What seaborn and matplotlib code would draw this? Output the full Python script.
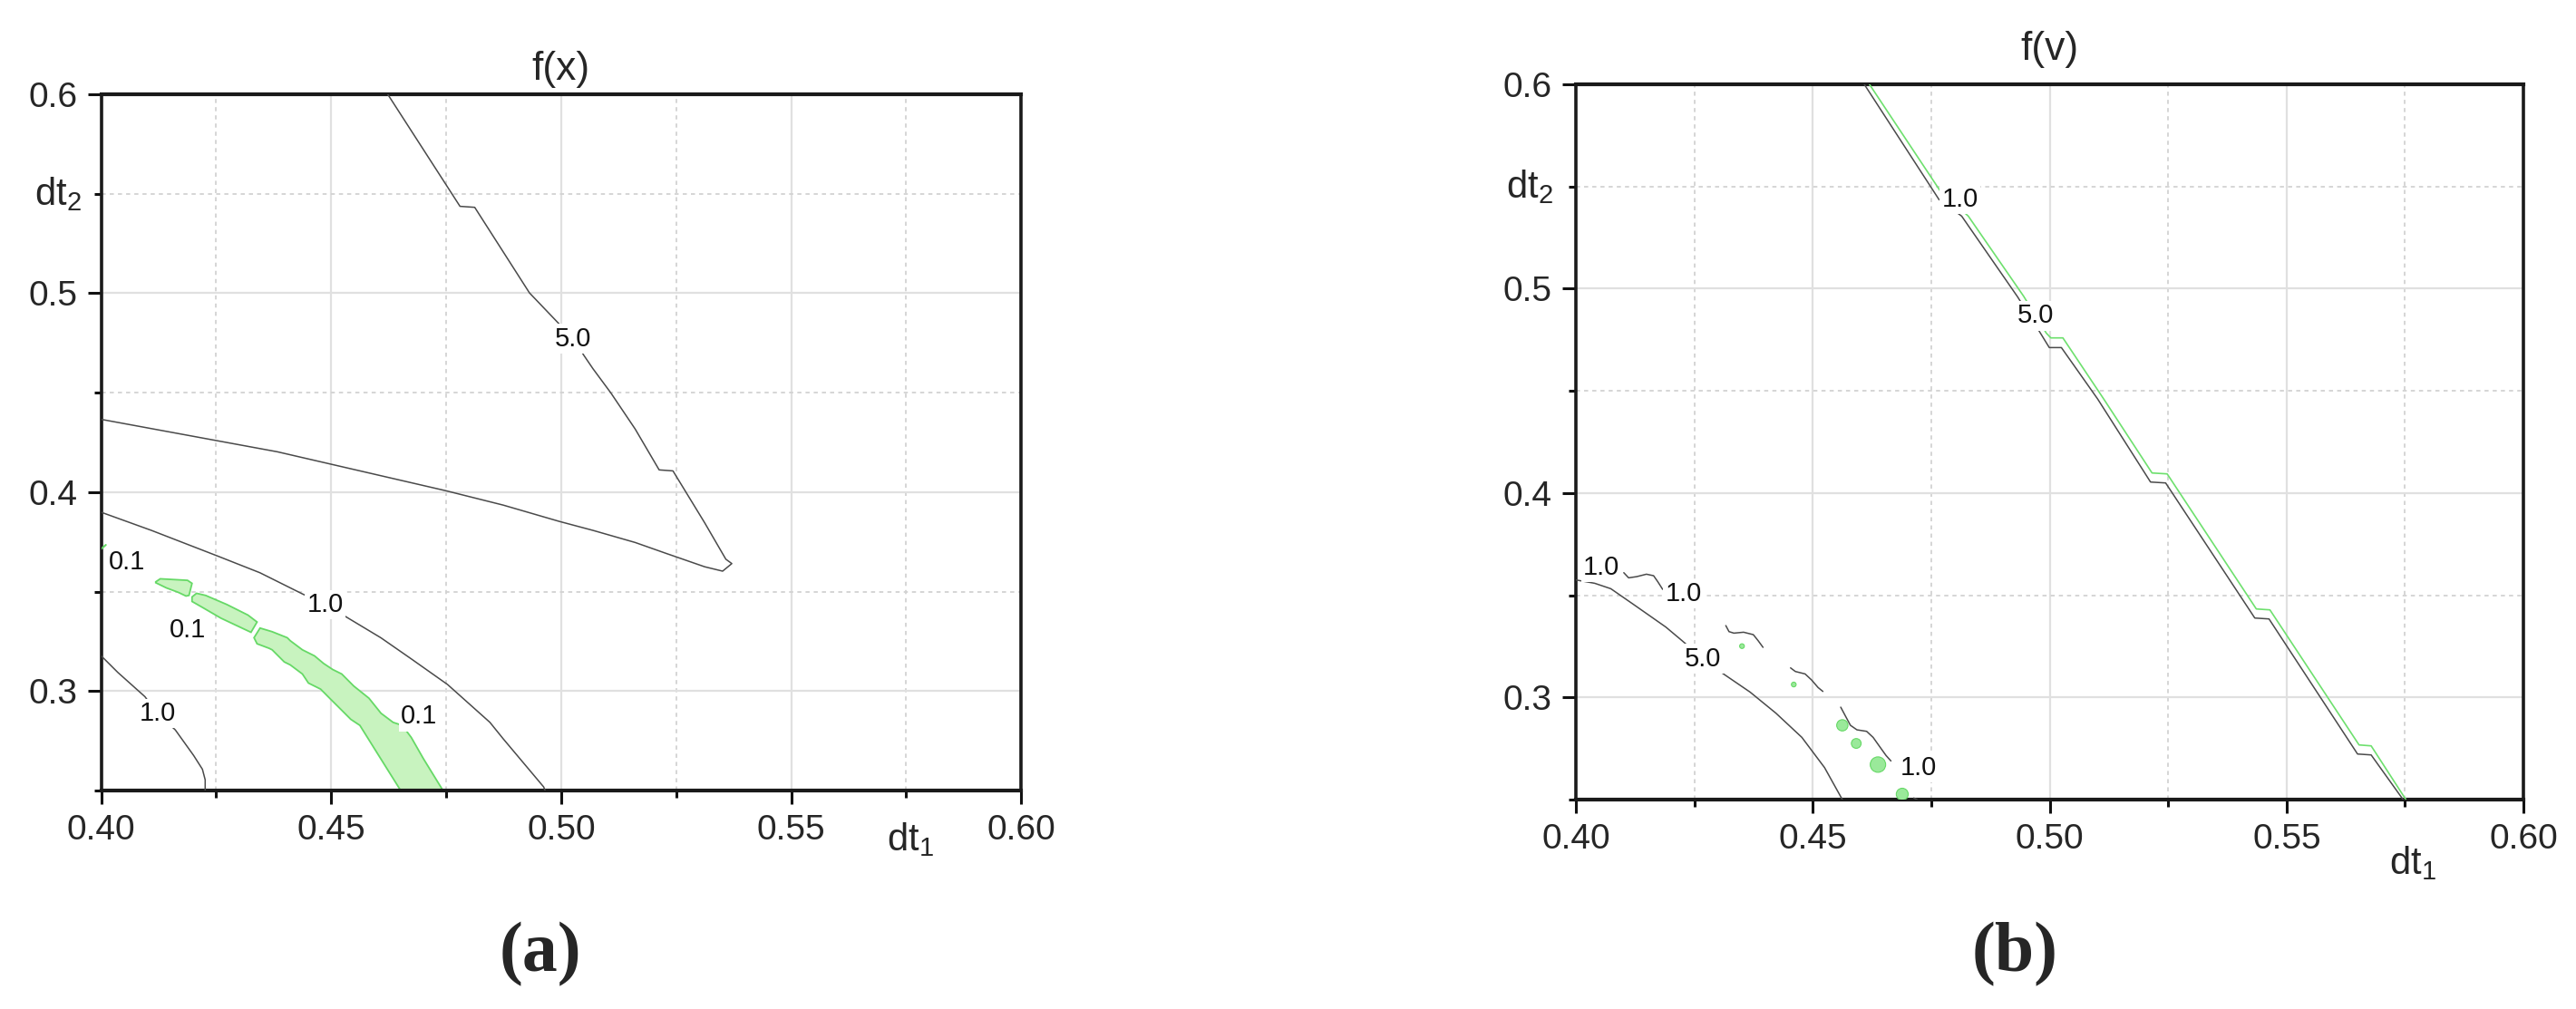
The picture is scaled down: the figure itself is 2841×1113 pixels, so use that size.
import numpy as np
import pandas as pd
import seaborn as sns
import matplotlib.pyplot as plt
from matplotlib.ticker import MultipleLocator, FormatStrFormatter

# ---- panel (a): f(x) ----
# 5.0 contour (V shaped)
a50_x = [0.4623, 0.4780, 0.4812, 0.4931, 0.5026, 0.5049, 0.5069, 0.5108, 0.5161, 0.5213, 0.5243,
         0.5266, 0.5312, 0.5358, 0.5371, 0.5351, 0.5312, 0.5226, 0.5161, 0.5069, 0.4996, 0.4874,
         0.4748, 0.4383, 0.4000]
a50_y = [0.6000, 0.5437, 0.5432, 0.5002, 0.4772, 0.4689, 0.4621, 0.4499, 0.4317, 0.4112, 0.4107,
         0.4020, 0.3846, 0.3663, 0.3641, 0.3603, 0.3625, 0.3694, 0.3747, 0.3808, 0.3853, 0.3935,
         0.4008, 0.4203, 0.4366]
# outer 1.0 contour
a10_x = [0.4000, 0.4109, 0.4253, 0.4345, 0.4437, 0.4487, 0.4526, 0.4608, 0.4674, 0.4753, 0.4845,
         0.4874, 0.4962, 0.4965]
a10_y = [0.3899, 0.3808, 0.3679, 0.3595, 0.3489, 0.3435, 0.3382, 0.3268, 0.3162, 0.3033, 0.2843,
         0.2760, 0.2518, 0.2500]
# small 1.0 contour, lower left
a10s_x = [0.4000, 0.4036, 0.4095, 0.4122, 0.4161, 0.4201, 0.4220, 0.4226, 0.4226]
a10s_y = [0.3177, 0.3094, 0.2972, 0.2888, 0.2805, 0.2676, 0.2607, 0.2554, 0.2500]
# 0.1 regions (filled)
a01_p1_x = [0.41185, 0.41283, 0.41875, 0.41974, 0.41908, 0.41842, 0.41678, 0.41415, 0.41185]
a01_p1_y = [0.35493, 0.35645, 0.35569, 0.35417, 0.34810, 0.34779, 0.34961, 0.35189, 0.35448]
a01_p2_x = [0.41974, 0.42072, 0.42270, 0.42730, 0.43190, 0.43388, 0.43256, 0.43059, 0.42599,
            0.42204, 0.41974]
a01_p2_y = [0.34734, 0.34916, 0.34810, 0.34354, 0.33822, 0.33473, 0.32956, 0.33169, 0.33670,
            0.34202, 0.34506]
a01_p3_x = [0.43322, 0.43453, 0.43716, 0.44045, 0.44111, 0.44374, 0.44637, 0.44834, 0.45031,
            0.45229, 0.45491, 0.45820, 0.46083, 0.46346, 0.46544, 0.46741, 0.47004, 0.47431,
            0.46511, 0.46281, 0.45952, 0.45623, 0.45426, 0.45229, 0.44965, 0.44769, 0.44505,
            0.44374, 0.44111, 0.43979, 0.43716, 0.43650, 0.43388]
a01_p3_y = [0.32683, 0.33169, 0.32986, 0.32683, 0.32531, 0.32075, 0.31771, 0.31391, 0.31087,
            0.30860, 0.30252, 0.29644, 0.28885, 0.28428, 0.28277, 0.27669, 0.26605, 0.25000,
            0.25000, 0.25846, 0.27061, 0.28277, 0.28580, 0.29036, 0.29644, 0.30100, 0.30403,
            0.30859, 0.31315, 0.31467, 0.32075, 0.32151, 0.32379]
a01_tip_x = [0.4000, 0.4010]
a01_tip_y = [0.3715, 0.3735]
a_lab_text = ["5.0", "1.0", "1.0", "0.1", "0.1", "0.1"]
a_lab_x = [0.5026, 0.4487, 0.4122, 0.4056, 0.4188, 0.4691]
a_lab_y = [0.4772, 0.3435, 0.2888, 0.3648, 0.3306, 0.2873]

# ---- panel (b): f(v) ----
b50_x = [0.46086, 0.47662, 0.48141, 0.49321, 0.49787, 0.49991, 0.50246, 0.51011, 0.52128, 0.52447,
         0.54329, 0.54629, 0.56498, 0.56785, 0.57460]
b50_y = [0.60000, 0.54366, 0.53553, 0.49605, 0.47889, 0.47120, 0.47120, 0.44607, 0.40541, 0.40496,
         0.33886, 0.33842, 0.27232, 0.27188, 0.25000]
b10_x = [0.46195, 0.47681, 0.48281, 0.49449, 0.49927, 0.50023, 0.50278, 0.51139, 0.52160, 0.52479,
         0.54361, 0.54648, 0.56530, 0.56785, 0.57519]
b10_y = [0.60000, 0.54810, 0.53553, 0.49634, 0.47830, 0.47594, 0.47594, 0.44607, 0.40984, 0.40940,
         0.34330, 0.34286, 0.27676, 0.27632, 0.25000]
b50s_x = [0.40000, 0.40394, 0.40735, 0.41214, 0.41624, 0.41897, 0.42239, 0.42684, 0.43094, 0.43674,
          0.44221, 0.44768, 0.45247, 0.45623]
b50s_y = [0.35750, 0.35587, 0.35321, 0.34552, 0.33887, 0.33443, 0.32778, 0.31890, 0.31181, 0.30264,
          0.29229, 0.28046, 0.26567, 0.25000]
b10w1_x = [0.41009, 0.41111, 0.41282, 0.41487, 0.41638, 0.41727, 0.41829]
b10w1_y = [0.36105, 0.35853, 0.35912, 0.36031, 0.35957, 0.35661, 0.35291]
b10w2_x = [0.43162, 0.43230, 0.43333, 0.43538, 0.43743, 0.43845, 0.43948]
b10w2_y = [0.33517, 0.33221, 0.33147, 0.33192, 0.33073, 0.32778, 0.32452]
b10w3_x = [0.44529, 0.44631, 0.44836, 0.44973, 0.45110, 0.45212]
b10w3_y = [0.31447, 0.31270, 0.31151, 0.30855, 0.30486, 0.30294]
b10w4_x = [0.45588, 0.45690, 0.45793, 0.45930, 0.46135, 0.46272, 0.46408, 0.46545, 0.46648]
b10w4_y = [0.29525, 0.29081, 0.28637, 0.28416, 0.28342, 0.28046, 0.27602, 0.27159, 0.26893]
b10w5_x = [0.4713, 0.4720]
b10w5_y = [0.2508, 0.2500]
b_blob_x = [0.43504, 0.44597, 0.45622, 0.45916, 0.46374, 0.46887]
b_blob_y = [0.32511, 0.30633, 0.28637, 0.27750, 0.26715, 0.25266]
b_blob_s = [14, 14, 80, 60, 150, 90]
b_lab_text = ["1.0", "5.0", "1.0", "1.0", "5.0", "1.0"]
b_lab_x = [0.48109, 0.49704, 0.40536, 0.42273, 0.42684, 0.47229]
b_lab_y = [0.54366, 0.48673, 0.36360, 0.35070, 0.31890, 0.26567]

x_ticks = [0.40, 0.45, 0.50, 0.55, 0.60]
y_ticks = [0.3, 0.4, 0.5, 0.6]

sns.set_theme(style="white")
plt.rcParams['font.family'] = ['Liberation Sans', 'DejaVu Sans']
plt.rcParams['mathtext.fontset'] = 'custom'
plt.rcParams['mathtext.rm'] = 'Liberation Sans'
plt.rcParams['mathtext.it'] = 'Liberation Sans'

line_c = '#4a4a4a'
green_line = '#6ee06e'
green_fill = '#c8f3bf'
green_edge = '#66d966'

fig = plt.figure(figsize=(28.41, 11.13), dpi=100)
ax_a = fig.add_axes([0.0393, 0.2165, 0.3571, 0.6900])
ax_b = fig.add_axes([0.6118, 0.2075, 0.3678, 0.7089])


def style_axes(ax):
    ax.set_xlim(0.40, 0.60)
    ax.set_ylim(0.25, 0.60)
    ax.set_xticks(x_ticks)
    ax.set_yticks(y_ticks)
    ax.xaxis.set_minor_locator(MultipleLocator(0.025))
    ax.yaxis.set_minor_locator(MultipleLocator(0.05))
    ax.xaxis.set_major_formatter(FormatStrFormatter('%.2f'))
    ax.yaxis.set_major_formatter(FormatStrFormatter('%.1f'))
    ax.tick_params(which='major', direction='out', length=11, width=2.2, labelsize=28,
                   pad=8, color='#111111', bottom=True, left=True)
    ax.tick_params(which='minor', direction='out', length=6, width=2.2, color='#111111',
                   bottom=True, left=True)
    ax.grid(which='major', color='#e0e0e0', lw=1.6, ls='-')
    ax.grid(which='minor', color='#d2d2d2', lw=1.3, ls=(0, (2.5, 2.5)))
    ax.set_axisbelow(True)
    for side, sp in ax.spines.items():
        sp.set_visible(True)
        sp.set_color('#1a1a1a')
        sp.set_linewidth(3.0 if side in ('top', 'bottom') else 2.6)


def contour_line(ax, xs, ys, color=line_c, lw=1.1):
    sns.lineplot(x=xs, y=ys, ax=ax, sort=False, estimator=None, color=color, lw=lw, zorder=3)


def contour_labels(ax, texts, xs, ys):
    for t, x, y in zip(texts, xs, ys):
        ax.text(x, y, t, fontsize=21, ha='center', va='center', color='#111111', zorder=5,
                bbox=dict(boxstyle='square,pad=0.08', fc='white', ec='none'))


for ax in (ax_a, ax_b):
    style_axes(ax)

# panel (a)
for px, py in ((a01_p1_x, a01_p1_y), (a01_p2_x, a01_p2_y), (a01_p3_x, a01_p3_y)):
    ax_a.fill(px, py, facecolor=green_fill, edgecolor=green_edge, lw=1.3, zorder=2)
contour_line(ax_a, a01_tip_x, a01_tip_y, color=green_edge, lw=1.5)
contour_line(ax_a, a50_x, a50_y)
contour_line(ax_a, a10_x, a10_y)
contour_line(ax_a, a10s_x, a10s_y)
contour_labels(ax_a, a_lab_text, a_lab_x, a_lab_y)

# panel (b)
contour_line(ax_b, b10_x, b10_y, color=green_line, lw=1.2)
contour_line(ax_b, b50_x, b50_y)
contour_line(ax_b, b50s_x, b50s_y)
for wx, wy in ((b10w1_x, b10w1_y), (b10w2_x, b10w2_y), (b10w3_x, b10w3_y),
               (b10w4_x, b10w4_y), (b10w5_x, b10w5_y)):
    contour_line(ax_b, wx, wy)
blobs = pd.DataFrame({'x': b_blob_x, 'y': b_blob_y, 's': b_blob_s})
sns.scatterplot(data=blobs, x='x', y='y', size='s', sizes=(min(b_blob_s), max(b_blob_s)),
                ax=ax_b, color='#9ae99a', edgecolor=green_edge, linewidth=0.8, legend=False,
                zorder=4)
contour_labels(ax_b, b_lab_text, b_lab_x, b_lab_y)

for ax in (ax_a, ax_b):
    ax.set_xlabel('')
    ax.set_ylabel('')

# titles
ax_a.text(0.5, 1.036, 'f(x)', transform=ax_a.transAxes, ha='center', va='center', fontsize=32)
ax_b.text(0.5, 1.049, 'f(v)', transform=ax_b.transAxes, ha='center', va='center', fontsize=32)

# axis labels placed at the minor tick positions
ax_a.text(-0.021, 0.55, r'$\mathrm{dt_2}$', transform=ax_a.get_yaxis_transform(),
          ha='right', va='center', fontsize=30)
ax_b.text(-0.024, 0.55, r'$\mathrm{dt_2}$', transform=ax_b.get_yaxis_transform(),
          ha='right', va='center', fontsize=30)
ax_a.text(0.576, -0.043, r'$\mathrm{dt_1}$', transform=ax_a.get_xaxis_transform(),
          ha='center', va='top', fontsize=30)
ax_b.text(0.5766, -0.062, r'$\mathrm{dt_1}$', transform=ax_b.get_xaxis_transform(),
          ha='center', va='top', fontsize=30)

# panel captions
fig.text(596 / 2841, 1 - 1053 / 1113, '(a)', ha='center', va='center', fontsize=56,
         family='Liberation Serif', fontweight='bold')
fig.text(2222 / 2841, 1 - 1053 / 1113, '(b)', ha='center', va='center', fontsize=56,
         family='Liberation Serif', fontweight='bold')

fig.savefig('out.png', dpi=100, facecolor='white')
